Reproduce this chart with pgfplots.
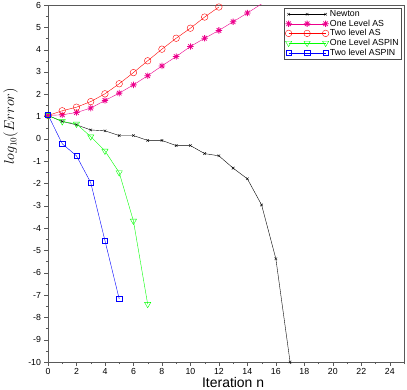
\documentclass[border=0pt]{standalone}
\usepackage{fontspec}
\setmainfont{Liberation Sans}
\usepackage{pgfplots}
\pgfplotsset{compat=1.18}
\usetikzlibrary{calc}

% MATLAB-like 8-ray asterisk
\pgfdeclareplotmark{ast8}{%
  \pgfpathmoveto{\pgfqpoint{\pgfplotmarksize}{0pt}}\pgfpathlineto{\pgfqpoint{-\pgfplotmarksize}{0pt}}%
  \pgfpathmoveto{\pgfqpoint{0pt}{\pgfplotmarksize}}\pgfpathlineto{\pgfqpoint{0pt}{-\pgfplotmarksize}}%
  \pgfpathmoveto{\pgfqpoint{0.707\pgfplotmarksize}{0.707\pgfplotmarksize}}\pgfpathlineto{\pgfqpoint{-0.707\pgfplotmarksize}{-0.707\pgfplotmarksize}}%
  \pgfpathmoveto{\pgfqpoint{0.707\pgfplotmarksize}{-0.707\pgfplotmarksize}}\pgfpathlineto{\pgfqpoint{-0.707\pgfplotmarksize}{0.707\pgfplotmarksize}}%
  \pgfusepathqstroke}

\begin{document}
\begin{tikzpicture}
\begin{axis}[
  name=ax,
  scale only axis, width=356bp, height=357bp,
  xmin=0, xmax=25, ymin=-10, ymax=6,
  xtick={0,2,...,24}, minor xtick={1,3,...,25},
  ytick={-10,-9,...,6}, minor ytick={-9.5,-8.5,...,5.5},
  xtick pos=bottom, ytick pos=left, tick align=outside,
  major tick length=3.5bp, minor tick length=2bp,
  axis line style={black!65, line width=0.9pt}, tick style={black!65},
  /pgf/number format/assume math mode=true,
  ticklabel style={font=\fontsize{8.8}{9}\selectfont},
  xticklabel style={yshift=1bp},
  xlabel={\fontsize{14}{14}\selectfont Iteration n},
  xlabel style={at={(rel axis cs:0.52,0)}, anchor=base, yshift=-25.5bp},
  ylabel={\fontsize{13.5}{14}\selectfont $log_{10}(Error)$},
  ylabel style={at={(rel axis cs:-0.105,0.66)}, anchor=center},
  legend style={at={(rel axis cs:0.9916,0.991)}, anchor=north east,
    draw=black!70, fill=white, inner sep=1bp,
    nodes={inner sep=1.1bp},
    font=\fontsize{8.8}{9}\selectfont, row sep=-0.4pt, cells={anchor=west}},
  legend image code/.code={
    \draw[#1] plot coordinates {(0bp,0bp) (18.5bp,0bp) (37bp,0bp)};},
]
\addplot[black, mark=x, mark size=1.8pt] coordinates {
(0,1.05) (1,0.78) (2,0.63) (3,0.40) (4,0.36) (5,0.15) (6,0.15) (7,-0.07) (8,-0.07)
(9,-0.30) (10,-0.30) (11,-0.66) (12,-0.76) (13,-1.31) (14,-1.79) (15,-2.96) (16,-5.37) (17,-10)};
\addlegendentry{Newton}
\addplot[magenta, mark=ast8, mark size=3.2pt, mark options={line width=0.8pt}] coordinates {
(0,1.05) (1,1.08) (2,1.18) (3,1.38) (4,1.72) (5,2.05) (6,2.42) (7,2.83) (8,3.27)
(9,3.69) (10,4.14) (11,4.51) (12,4.86) (13,5.25) (14,5.64) (15,6.05)};
\addlegendentry{One Level AS}
\addplot[red, mark=o, mark size=3.3pt] coordinates {
(0,1.05) (1,1.26) (2,1.42) (3,1.67) (4,2.02) (5,2.47) (6,2.97) (7,3.50) (8,4.02)
(9,4.51) (10,4.96) (11,5.46) (12,5.91)};
\addlegendentry{Two level AS}
\addplot[green, mark=triangle, mark options={rotate=180}, mark size=3.6pt] coordinates {
(0,1.05) (1,0.78) (2,0.67) (3,0.10) (4,-0.54) (5,-1.51) (6,-3.68) (7,-7.41)};
\addlegendentry{One Level ASPIN}
\addplot[blue, mark=square, mark size=2.6pt] coordinates {
(0,1.08) (1,-0.22) (2,-0.76) (3,-1.96) (4,-4.56) (5,-7.17)};
\addlegendentry{Two level ASPIN}
\end{axis}
\pgfresetboundingbox
\path ($(ax.south west)+(-48bp,-28bp)$) rectangle ($(ax.north east)+(3bp,5bp)$);
\end{tikzpicture}
\end{document}
